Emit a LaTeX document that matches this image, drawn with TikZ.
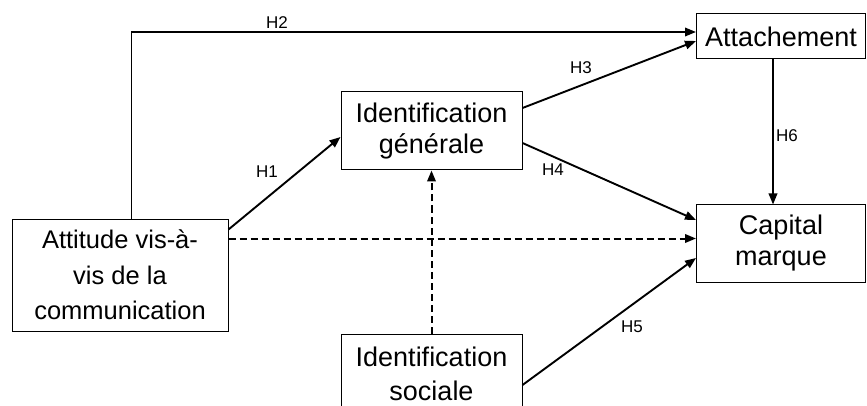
\documentclass[tikz,border=0pt]{standalone}
\usepackage{fontspec}
\setmainfont{Liberation Sans}
\usetikzlibrary{arrows.meta}
\begin{document}
\begin{tikzpicture}[x=1pt,y=-1pt,
  box/.style={draw,line width=1pt,inner sep=0pt,align=center,font=\fontsize{27}{31}\selectfont},
  arr/.style={line width=1.9pt,-{Triangle[length=11pt,width=8.5pt]}},
  dasharr/.style={arr,line width=2pt,dash pattern=on 7pt off 4pt},
  lab/.style={font=\fontsize{17}{18}\selectfont,inner sep=0pt}]
\useasboundingbox (0,0) rectangle (867,406);
\clip (0,0) rectangle (867,406);
\node[box,minimum width=216pt,minimum height=112pt,font=\fontsize{25.5}{35.5}\selectfont] (att) at (120,275) {Attitude vis-à-\\vis de la\\communication};
\node[box,minimum width=181pt,minimum height=78pt] (idg) at (431.5,131) {Identification\\générale};
\node[box,minimum width=181pt,minimum height=80pt,font=\fontsize{27}{34}\selectfont] (ids) at (431.5,374) {Identification\\sociale};
\node[box,minimum width=169pt,minimum height=45pt] (attach) at (781,36.5) {Attachement};
\node[box,minimum width=169pt,minimum height=77pt] (cap) at (781,243.5) {Capital\\marque};
% H2
\draw[arr] ([xshift=120pt]att.north west) |- ([yshift=4.5pt]attach.west);
\node[lab] (h2) at (277,23) {H2};
% H1
\draw[arr] ([yshift=-11pt]att.north east) -- ([yshift=-6pt]idg.west);
\node[lab] (h1) at (267,172) {H1};
% dashed horizontal
\draw[dasharr] ([yshift=36.5pt]att.east) -- ([yshift=36.5pt]att.east -| cap.west);
% H3
\draw[arr] ([yshift=23pt]idg.east) -- ([yshift=-4.5pt]attach.west);
\node[lab] (h3) at (581,68) {H3};
% H4
\draw[arr] ([yshift=-12pt]idg.east) -- ([yshift=23.5pt]cap.west);
\node[lab] (h4) at (553,170) {H4};
% H5
\draw[arr] ([yshift=-11pt]ids.east) -- ([yshift=-14.5pt]cap.west);
\node[lab] (h5) at (632,327) {H5};
% H6
\draw[arr] ([xshift=-8pt]attach.south) -- ([xshift=-8pt]cap.north);
\node[lab] (h6) at (787,136) {H6};
% dashed vertical
\draw[dasharr] (ids.north) -- (idg.south);
\end{tikzpicture}
\end{document}
